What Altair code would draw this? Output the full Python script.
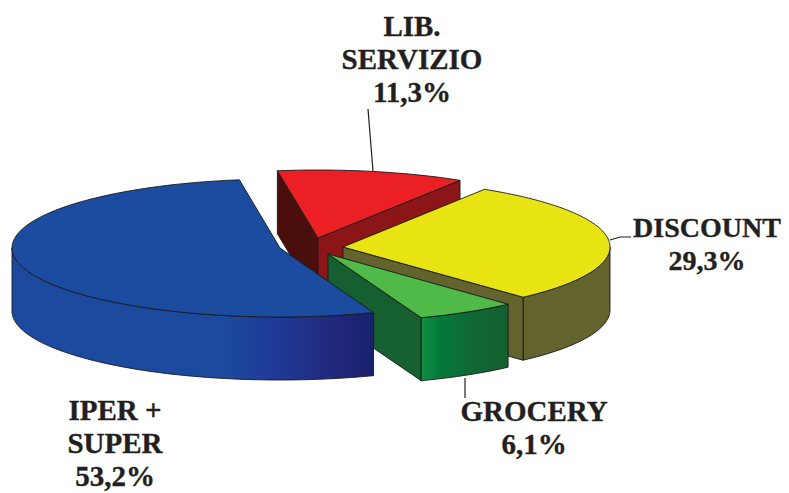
import math
import altair as alt

# ---- data
names = ["DISCOUNT", "GROCERY", "IPER +\nSUPER", "LIB.\nSERVIZIO"]
values = [29.3, 6.1, 53.2, 11.3]

# ---- styling / layout of the perspective pie
W, H = 773, 485
MARGIN = 8
DEPTH = 63
START = -58
apex = {"DISCOUNT": (343, 247), "GROCERY": (328, 254),
        "IPER +\nSUPER": (280, 248), "LIB.\nSERVIZIO": (318, 238)}
radii = {"DISCOUNT": (267, 68), "GROCERY": (267, 68),
         "IPER +\nSUPER": (268, 69), "LIB.\nSERVIZIO": (268, 68)}
label_pos = {"DISCOUNT": (707, 237), "GROCERY": (534, 421),
             "IPER +\nSUPER": (115, 420), "LIB.\nSERVIZIO": (412, 36)}
label_size = {"DISCOUNT": 28, "GROCERY": 29, "IPER +\nSUPER": 29, "LIB.\nSERVIZIO": 29}
leaders = [[(610, 240), (620, 237), (631, 237)],
           [(368, 109), (373, 171)],
           [(465, 378), (465, 398)]]
INK = "#231f20"
EDGE = "#1a1a1a"


def grad(stops):
    return alt.Gradient(gradient="linear", x1=0, x2=1, y1=0, y2=0,
                        stops=[alt.GradientStop(offset=o, color=c) for o, c in stops])


WALL = {
    "DISCOUNT": "#62632d",
    "GROCERY": grad([(0, "#118f45"), (0.22, "#037a3a"), (0.6, "#116634"), (1, "#145f30")]),
    "IPER +\nSUPER": grad([(0, "#1b4a9e"), (0.58, "#1b4a9e"), (0.72, "#1f3b97"), (0.9, "#21277b"), (1, "#17216b")]),
    "LIB.\nSERVIZIO": "#8c1518",
}
TOP = {"DISCOUNT": "#e8e413", "GROCERY": "#4fba48",
       "IPER +\nSUPER": "#1b4ca0", "LIB.\nSERVIZIO": "#ec1f24"}
CUT_START = {"LIB.\nSERVIZIO": "#4a0f0d"}

# ---- angles follow the values
total = sum(values)
spans = {}
t = START
for n, v in zip(names, values):
    spans[n] = (t, t + v / total * 360)
    t = spans[n][1]


def rim(name, t0, t1, dy=0):
    cx, cy = apex[name]
    a, b = radii[name]
    steps = max(2, int(abs(t1 - t0)))
    return [(cx + a * math.cos(math.radians(t0 + (t1 - t0) * i / steps)) - MARGIN,
             cy + b * math.sin(math.radians(t0 + (t1 - t0) * i / steps)) + dy - MARGIN)
            for i in range(steps + 1)]


def poly(points):
    pts = [list(p) for p in points]
    pts.append(pts[0])
    return {"type": "Feature", "properties": {},
            "geometry": {"type": "Polygon", "coordinates": [pts]}}


def line(points):
    return {"type": "Feature", "properties": {},
            "geometry": {"type": "LineString",
                         "coordinates": [[x - MARGIN, y - MARGIN] for x, y in points]}}


def shape(feature, fill):
    return alt.Chart(alt.Data(values=[feature])).mark_geoshape(
        fill=fill, stroke=EDGE, strokeWidth=0.9, strokeJoin="round")


def corner(name):
    x, y = apex[name]
    return (x - MARGIN, y - MARGIN)


def cut(name, angle, fill):
    p = rim(name, angle, angle)[0]
    a = corner(name)
    return shape(poly([a, p, (p[0], p[1] + DEPTH), (a[0], a[1] + DEPTH)]), fill)


def outer(name):
    t0, t1 = spans[name]
    lo, hi = max(t0, 0), min(t1, 180)
    return shape(poly(rim(name, lo, hi) + rim(name, hi, lo, DEPTH)), WALL[name])


def top(name):
    t0, t1 = spans[name]
    return shape(poly([corner(name)] + rim(name, t0, t1)), TOP[name])


D, G, I, L = names
layers = [
    # frame that pins the planar projection to the pixel grid
    alt.Chart(alt.Data(values=[poly([(0, 0), (W, 0), (W, H), (0, H)])])).mark_geoshape(
        fill="transparent", strokeWidth=0),
    cut(L, spans[L][0], CUT_START[L]),
    cut(L, spans[L][1], WALL[L]),
    top(L),
    outer(D),
    cut(D, spans[D][1], WALL[D]),
    top(D),
    cut(G, spans[G][1], "#155f30"),
    outer(G),
    top(G),
    outer(I),
    top(I),
]
for pts in leaders:
    layers.append(alt.Chart(alt.Data(values=[line(pts)])).mark_geoshape(
        filled=False, stroke=INK, strokeWidth=1.2))

rows = [{"label": n + "\n" + f"{v:.1f}".replace(".", ",") + "%",
         "px": label_pos[n][0] - MARGIN, "py": label_pos[n][1] - MARGIN,
         "fs": label_size[n]}
        for n, v in zip(names, values)]
text = alt.Chart(alt.Data(values=rows)).mark_text(
    font="Liberation Serif", fontWeight="bold", color=INK,
    stroke=INK, strokeWidth=0.35,
    align="center", baseline="alphabetic", lineBreak="\n", lineHeight=33
).encode(
    x=alt.X("px:Q", scale=None, axis=None),
    y=alt.Y("py:Q", scale=None, axis=None),
    size=alt.Size("fs:Q", scale=None, legend=None),
    text="label:N",
)
layers.append(text)

chart = alt.layer(*layers).project(type="identity").properties(
    width=W, height=H, padding=0, autosize=alt.AutoSizeParams(type="none"),
    background="white",
).configure_view(stroke=None)

chart.save("out.html", embed_options={"renderer": "svg", "actions": False})
